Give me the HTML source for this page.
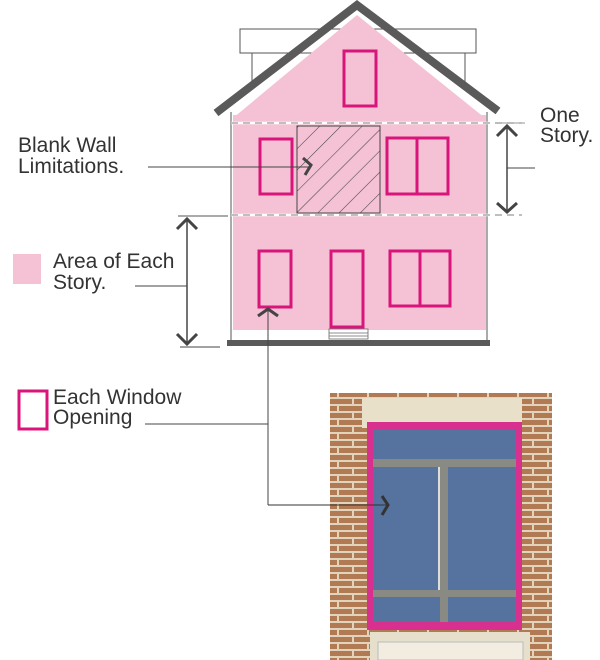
<!DOCTYPE html>
<html><head><style>
html,body{margin:0;padding:0;background:#fff;}
svg{display:block;}
text{font-family:"Liberation Sans",sans-serif;font-size:21px;fill:#333;}
</style></head><body>
<svg width="600" height="660" viewBox="0 0 600 660" xmlns="http://www.w3.org/2000/svg">
<defs>
<pattern id="hatch" patternUnits="userSpaceOnUse" width="15" height="15" patternTransform="rotate(45)">
<line x1="0" y1="0" x2="0" y2="15" stroke="#444" stroke-width="1.1"/>
</pattern>
<pattern id="brick" patternUnits="userSpaceOnUse" width="30" height="14">
<rect width="30" height="14" fill="#b27a52"/>
<line x1="0" y1="13" x2="30" y2="13" stroke="#e2d3bd" stroke-width="2"/>
<line x1="0" y1="6" x2="30" y2="6" stroke="#e2d3bd" stroke-width="2"/>
<line x1="8" y1="0" x2="8" y2="6" stroke="#e2d3bd" stroke-width="2"/>
<line x1="23" y1="6" x2="23" y2="13" stroke="#e2d3bd" stroke-width="2"/>
</pattern>
</defs>
<rect x="240" y="29" width="236" height="24" fill="none" stroke="#555" stroke-width="1"/>
<line x1="252" y1="53" x2="252" y2="85" stroke="#555"/>
<line x1="465" y1="53" x2="465" y2="85" stroke="#555"/>
<rect x="233" y="115" width="253" height="215" fill="#f4c2d4"/>
<polygon points="233,118 357,15 485,118" fill="#f4c2d4"/>
<line x1="231" y1="112" x2="231" y2="341" stroke="#555"/>
<line x1="487" y1="112" x2="487" y2="341" stroke="#555"/>
<polyline points="216,113 357,5 498,111" fill="none" stroke="#5a5a5a" stroke-width="8"/>
<line x1="231" y1="123" x2="522" y2="123" stroke="#fff" stroke-width="2.5"/>
<line x1="231" y1="123" x2="522" y2="123" stroke="#555" stroke-dasharray="7,5" stroke-width="0.8"/>
<line x1="231" y1="215" x2="522" y2="215" stroke="#fff" stroke-width="2.5"/>
<line x1="231" y1="215" x2="522" y2="215" stroke="#555" stroke-dasharray="7,5" stroke-width="0.8"/>
<line x1="178" y1="216" x2="228" y2="216" stroke="#555"/>
<g fill="none" stroke="#d9157c" stroke-width="3">
<rect x="344" y="51" width="32" height="55"/>
<rect x="260" y="139" width="32" height="55"/>
<rect x="387" y="138" width="61" height="56"/><line x1="417" y1="138" x2="417" y2="194"/>
<rect x="259" y="251" width="32" height="56"/>
<rect x="331" y="251" width="32" height="76"/>
<rect x="390" y="251" width="60" height="55"/><line x1="420" y1="251" x2="420" y2="306"/>
</g>
<rect x="297" y="126" width="83" height="87" fill="url(#hatch)" stroke="#444" stroke-width="1"/>
<rect x="329" y="329" width="39" height="10" fill="#fff" stroke="#666" stroke-width="0.8"/>
<line x1="329" y1="333" x2="368" y2="333" stroke="#666" stroke-width="0.8"/>
<line x1="329" y1="336" x2="368" y2="336" stroke="#666" stroke-width="0.8"/>
<rect x="227" y="340" width="263" height="6" fill="#5a5a5a"/>
<line x1="495" y1="123" x2="525" y2="123" stroke="#777" stroke-width="0.8"/>
<line x1="507" y1="126" x2="507" y2="212" stroke="#444" stroke-width="1.5"/>
<polyline points="497,136 507,126 517,136" fill="none" stroke="#444" stroke-width="3"/>
<polyline points="497,203 507,212 517,203" fill="none" stroke="#444" stroke-width="3"/>
<line x1="507" y1="168" x2="535" y2="168" stroke="#444"/>
<text x="540" y="122">One</text>
<text x="540" y="142">Story.</text>
<line x1="187" y1="219" x2="187" y2="343" stroke="#444" stroke-width="1.5"/>
<polyline points="177,229 187,219 197,229" fill="none" stroke="#444" stroke-width="3"/>
<polyline points="177,334 187,344 197,334" fill="none" stroke="#444" stroke-width="3"/>
<line x1="180" y1="347" x2="220" y2="347" stroke="#444"/>
<line x1="135" y1="286" x2="187" y2="286" stroke="#444"/>
<rect x="13" y="254" width="28" height="30" fill="#f4c2d4"/>
<text x="53" y="268">Area of Each</text>
<text x="53" y="289">Story.</text>
<text x="18" y="152">Blank Wall</text>
<text x="18" y="173">Limitations.</text>
<line x1="148" y1="167" x2="310" y2="167" stroke="#444"/>
<polyline points="303,158 311,165 305,175" fill="none" stroke="#444" stroke-width="3"/>
<rect x="19" y="391" width="28" height="38" fill="none" stroke="#d9157c" stroke-width="3"/>
<text x="53" y="404">Each Window</text>
<text x="53" y="424">Opening</text>
<line x1="145" y1="424" x2="268" y2="424" stroke="#444"/>
<line x1="268" y1="310" x2="268" y2="505" stroke="#444"/>
<polyline points="258,316 268,309 278,316" fill="none" stroke="#444" stroke-width="3"/>
<rect x="330" y="393" width="222" height="267" fill="url(#brick)"/>
<rect x="362" y="398" width="160" height="30" fill="#e8e0c8"/>
<rect x="367" y="422" width="155" height="208" fill="#d8308e"/>
<rect x="373" y="430" width="143" height="192" fill="#56729f"/>
<rect x="373" y="459" width="143" height="8" fill="#8a8a84"/>
<rect x="373" y="590" width="143" height="7" fill="#8a8a84"/>
<rect x="440" y="467" width="8" height="155" fill="#8a8a84"/>
<rect x="438" y="467" width="2" height="123" fill="#ddd"/>
<rect x="370" y="632" width="160" height="28" fill="#e6dfcc"/>
<rect x="378" y="642" width="145" height="18" fill="#f2ede0" stroke="#bbb" stroke-width="1"/>
<line x1="268" y1="505" x2="388" y2="505" stroke="#333"/>
<polyline points="382,496 388,505 382,515" fill="none" stroke="#333" stroke-width="3"/>
</svg>
</body></html>
